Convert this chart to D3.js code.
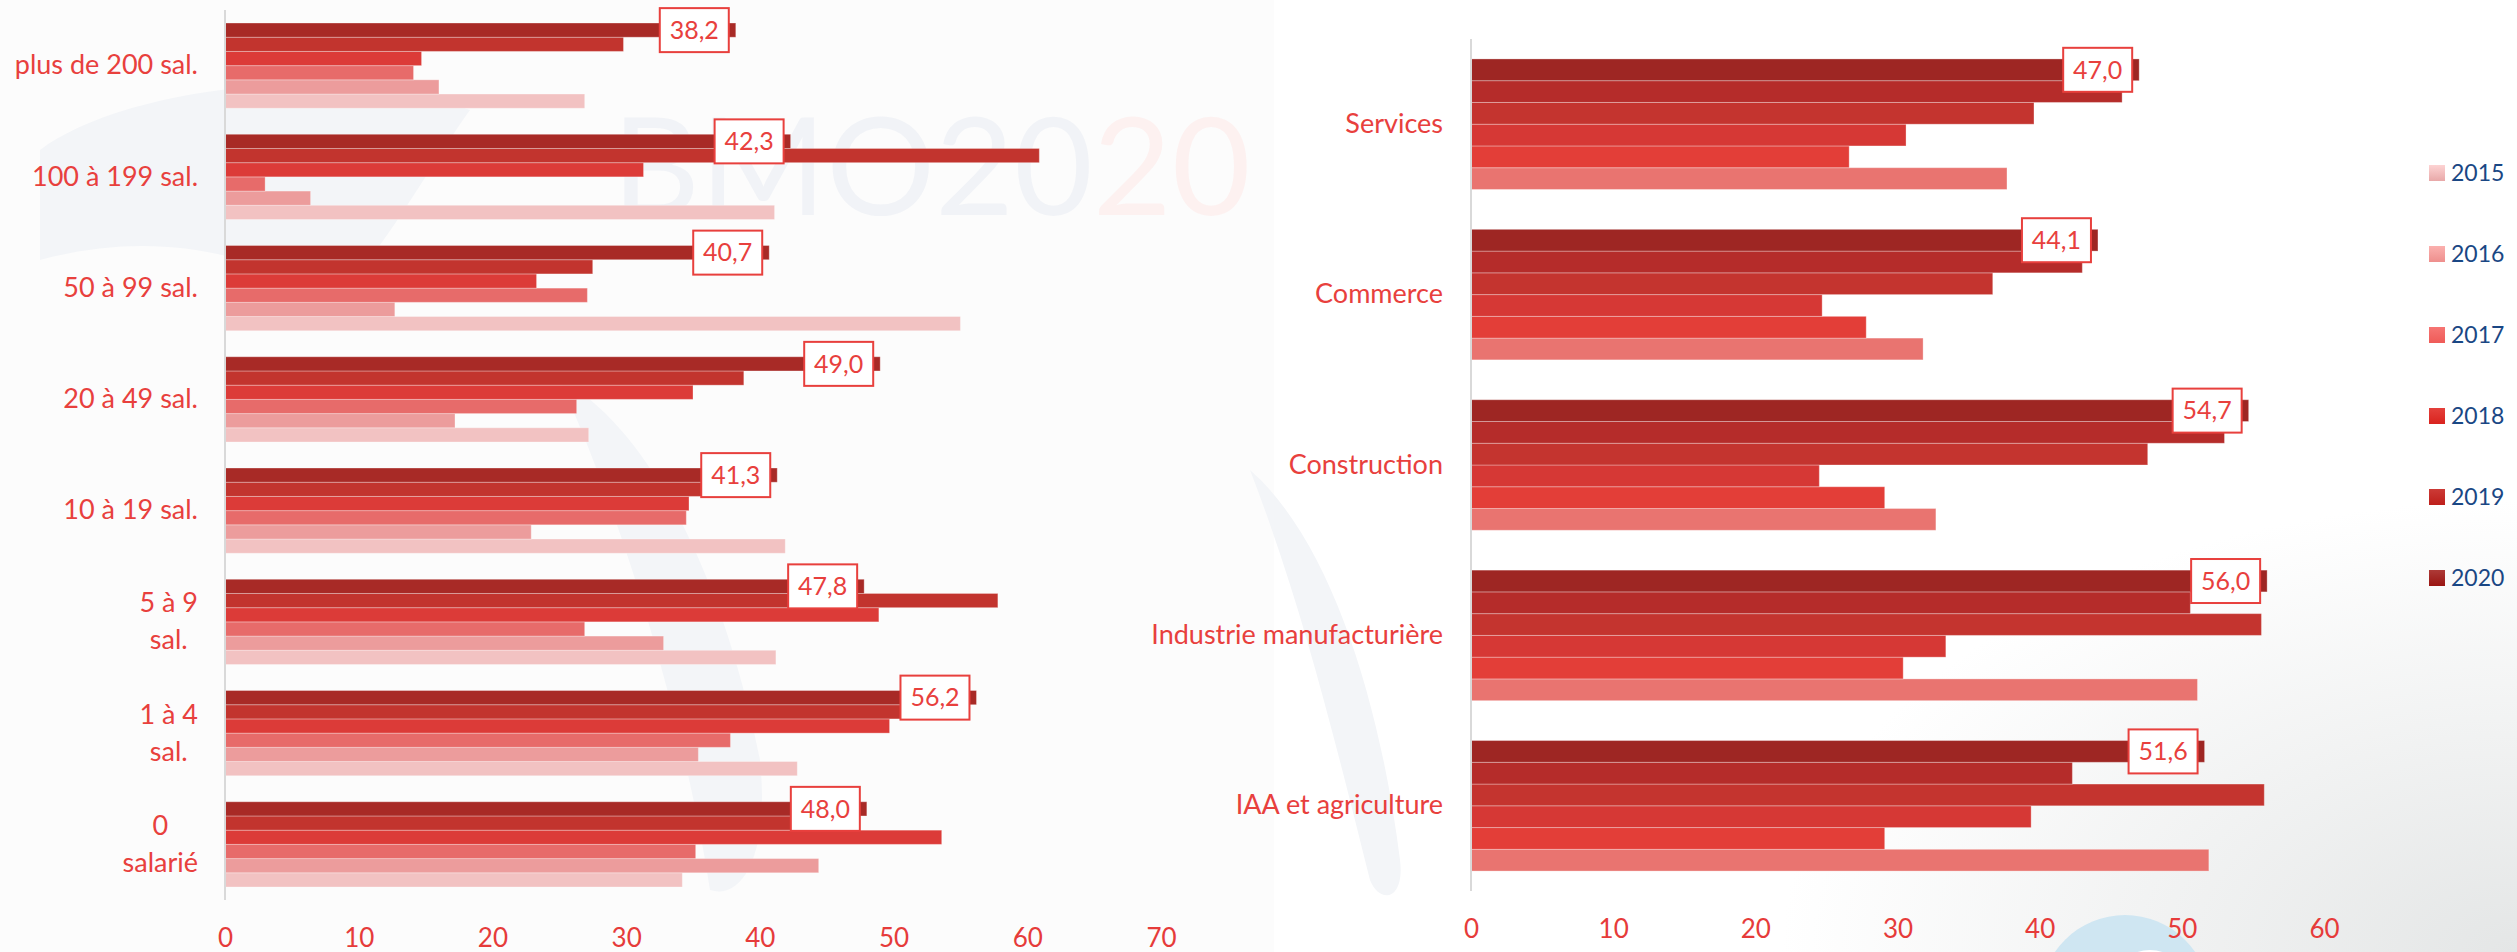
<!DOCTYPE html>
<html>
<head>
<meta charset="utf-8">
<title>Taux de difficulté de recrutement</title>
<style>
  body { margin: 0; background: #fcfcfc; }
  svg { display: block; }
  text { font-family: Lato, "Open Sans", sans-serif; }
  .tick text { fill: #e63b3a; }
  .cat text { fill: #e8403d; }
</style>
</head>
<body>
<svg width="2517" height="952"></svg>
<script src="https://cdn.jsdelivr.net/npm/d3@7"></script>
<script>

// years, drawn with 2020 on top of each group
var years = ["2015", "2016", "2017", "2018", "2019", "2020"];

// left chart : company size
var sizeCats = ["plus de 200 sal.", "100 à 199 sal.", "50 à 99 sal.", "20 à 49 sal.",
                "10 à 19 sal.", "5 à 9\nsal.", "1 à 4\nsal.", "0\nsalarié"];
var size2015 = [26.9, 41.1, 55.0, 27.2, 41.9, 41.2, 42.8, 34.2];
var size2016 = [16.0, 6.4, 12.7, 17.2, 22.9, 32.8, 35.4, 44.4];
var size2017 = [14.1, 3.0, 27.1, 26.3, 34.5, 26.9, 37.8, 35.2];
var size2018 = [14.7, 31.3, 23.3, 35.0, 34.7, 48.9, 49.7, 53.6];
var size2019 = [29.8, 60.9, 27.5, 38.8, 36.5, 57.8, 52.0, 45.5];
var size2020 = [38.2, 42.3, 40.7, 49.0, 41.3, 47.8, 56.2, 48.0];
var sizeTicks = [0, 10, 20, 30, 40, 50, 60, 70];

// right chart : sector
var sectorCats = ["Services", "Commerce", "Construction", "Industrie manufacturière", "IAA et agriculture"];
var sec2015 = [37.7, 31.8, 32.7, 51.1, 51.9];
var sec2016 = [26.6, 27.8, 29.1, 30.4, 29.1];
var sec2017 = [30.6, 24.7, 24.5, 33.4, 39.4];
var sec2018 = [39.6, 36.7, 47.6, 55.6, 55.8];
var sec2019 = [45.8, 43.0, 53.0, 50.6, 42.3];
var sec2020 = [47.0, 44.1, 54.7, 56.0, 51.6];
var sectorTicks = [0, 10, 20, 30, 40, 50, 60];

var leftColors  = ["#f2c2c2", "#ec9c9c", "#e76b6a", "#dc3b38", "#c2342e", "#a82a26"];
var rightColors = ["#e97470", "#e33e38", "#d63835", "#c4342f", "#b52c2a", "#9e2623"];
var legendTop = ["#fdd3d3", "#fbb0ae", "#f67573", "#e4403b", "#cc3a36", "#ad3a37"];
var legendBot = ["#e8a8a8", "#ee8f8d", "#ef5b58", "#d9231e", "#be1f1b", "#9a1512"];

var svg = d3.select("svg");
var fmt = function(v) { return d3.format(".1f")(v).replace(".", ","); };

// ---- background decorations
var defs = svg.append("defs");
var rg = defs.append("radialGradient").attr("id", "corner")
    .attr("cx", 1).attr("cy", 1).attr("r", 0.9);
rg.append("stop").attr("offset", 0).attr("stop-color", "#e4e6e6");
rg.append("stop").attr("offset", 1).attr("stop-color", "#ffffff");
years.forEach(function(y, i) {
    var g = defs.append("linearGradient").attr("id", "lg" + y)
        .attr("x1", 0).attr("y1", 0).attr("x2", 0).attr("y2", 1);
    g.append("stop").attr("offset", 0).attr("stop-color", legendTop[i]);
    g.append("stop").attr("offset", 1).attr("stop-color", legendBot[i]);
});

var bg = svg.append("g");
bg.append("rect").attr("x", 1274).attr("y", 0).attr("width", 1243).attr("height", 952).attr("fill", "#ffffff");
bg.append("rect").attr("x", 1700).attr("y", 450).attr("width", 817).attr("height", 502).attr("fill", "url(#corner)");
bg.append("path").attr("fill", "#f3f5f8")
    .attr("d", "M40,150 C120,90 330,60 470,110 C420,180 380,260 330,300 C250,250 150,230 40,260 Z");
bg.append("path").attr("fill", "#f3f5f8")
    .attr("d", "M560,380 C640,420 720,560 760,760 C770,860 740,900 710,890 C690,760 640,560 560,380 Z");
bg.append("path").attr("fill", "#f3f5f8")
    .attr("d", "M1250,470 C1330,540 1380,700 1400,860 C1405,900 1380,905 1370,880 C1330,720 1300,600 1250,470 Z");
bg.append("circle").attr("cx", 2125).attr("cy", 1000).attr("r", 85).attr("fill", "#cfe6f2");
bg.append("circle").attr("cx", 2150).attr("cy", 990).attr("r", 40).attr("fill", "#ffffff");
var wm = bg.append("text").attr("x", 612).attr("y", 215)
    .style("font-size", "136px").style("font-weight", 400);
wm.append("tspan").attr("fill", "#f1f3f7").text("BMO20");
wm.append("tspan").attr("fill", "#fdf1f0").text("20");

// ---- one grouped horizontal bar chart
function drawChart(opt) {
    var x = d3.scaleLinear().domain([0, opt.max]).range([opt.x0, opt.x1]);
    var y = d3.scaleBand().domain(opt.cats).range([opt.top, opt.bottom])
        .paddingInner(0.234).paddingOuter(0.117);
    var yy = d3.scaleBand().domain(years.slice().reverse()).range([0, y.bandwidth()]);

    var rows = opt.cats.map(function(c, i) {
        return { cat: c, vals: years.map(function(yr, k) { return { year: yr, k: k, v: opt.series[k][i] }; }) };
    });

    var g = svg.append("g");

    var groups = g.selectAll("g.grp").data(rows).enter().append("g")
        .attr("class", "grp")
        .attr("transform", function(d) { return "translate(0," + y(d.cat) + ")"; });

    groups.selectAll("rect").data(function(d) { return d.vals; }).enter().append("rect")
        .attr("x", x(0))
        .attr("y", function(d) { return yy(d.year); })
        .attr("width", function(d) { return x(d.v) - x(0); })
        .attr("height", yy.bandwidth())
        .attr("fill", function(d) { return opt.colors[d.k]; })
        .attr("stroke", "rgba(255,255,255,0.3)")
        .attr("stroke-width", 1);

    // vertical axis line
    g.append("line")
        .attr("x1", x(0)).attr("x2", x(0))
        .attr("y1", opt.top).attr("y2", opt.bottom)
        .attr("stroke", "#d9d9d9").attr("stroke-width", 2);

    // labels for 2020
    var lab = groups.append("g").attr("transform", function(d) {
        var v = d.vals[5].v;
        return "translate(" + (x(v) - 7 - 69) + "," + (yy("2020") + yy.bandwidth() / 2 - 22) + ")";
    });
    lab.append("rect").attr("width", 69).attr("height", 44)
        .attr("fill", "#ffffff").attr("stroke", "#e8403d").attr("stroke-width", 2);
    lab.append("text").attr("x", 34.5).attr("y", 22).attr("dy", "0.35em")
        .attr("text-anchor", "middle").attr("fill", "#e8403d")
        .style("font-size", "25px")
        .text(function(d) { return fmt(d.vals[5].v); });

    // bottom axis
    var xa = g.append("g").attr("transform", "translate(0," + opt.tickY + ")")
        .call(d3.axisBottom(x).tickValues(opt.ticks).tickSize(0).tickPadding(0));
    xa.select(".domain").remove();
    xa.selectAll("text").style("font-size", "26px").attr("dy", "0.35em").attr("y", 0);

    // category axis
    var ya = g.append("g").attr("class", "cat").attr("transform", "translate(" + x(0) + ",0)")
        .call(d3.axisLeft(y).tickSize(0).tickPadding(opt.pad));
    ya.select(".domain").remove();
    ya.selectAll("text").style("font-size", "27px").each(function(d) {
        var t = d3.select(this), lines = d.split("\n");
        if (lines.length === 1) return;
        t.text(null);
        var spans = lines.map(function(l, i) {
            return t.append("tspan").attr("x", 0).attr("dy", i === 0 ? "-0.35em" : "37px").text(l);
        });
        var w = d3.max(spans, function(s) { return s.node().getComputedTextLength(); });
        t.attr("text-anchor", "middle");
        spans.forEach(function(s) { s.attr("x", -opt.pad - w / 2); });
        t.attr("dy", null);
    });
}

drawChart({
    cats: sizeCats,
    series: [size2015, size2016, size2017, size2018, size2019, size2020],
    colors: leftColors,
    max: 70, x0: 225, x1: 1161,
    top: 10, bottom: 900,
    ticks: sizeTicks, tickY: 938, pad: 27
});

drawChart({
    cats: sectorCats,
    series: [sec2015, sec2016, sec2017, sec2018, sec2019, sec2020],
    colors: rightColors,
    max: 60, x0: 1471, x1: 2324,
    top: 39, bottom: 891,
    ticks: sectorTicks, tickY: 929, pad: 28
});

// ---- legend
var leg = svg.append("g").selectAll("g").data(years).enter().append("g")
    .attr("transform", function(d, i) { return "translate(2429," + (173 + i * 81) + ")"; });
leg.append("rect").attr("x", 0).attr("y", -8).attr("width", 16).attr("height", 16)
    .attr("fill", function(d) { return "url(#lg" + d + ")"; });
leg.append("text").attr("x", 22).attr("dy", "0.36em")
    .attr("fill", "#1a4784").style("font-size", "23px")
    .text(function(d) { return d; });

</script>
</body>
</html>
